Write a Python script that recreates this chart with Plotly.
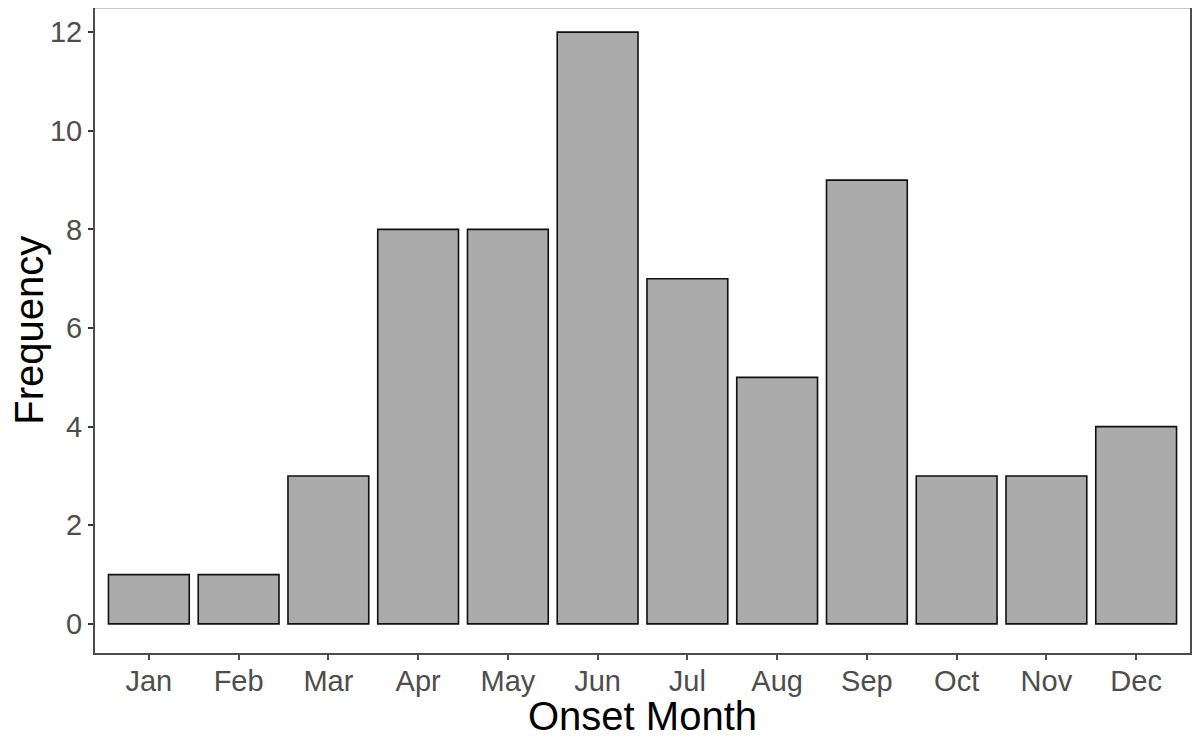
import plotly.graph_objects as go

months = ["Jan", "Feb", "Mar", "Apr", "May", "Jun", "Jul", "Aug", "Sep", "Oct", "Nov", "Dec"]
frequency = [1, 1, 3, 8, 8, 12, 7, 5, 9, 3, 3, 4]
y_ticks = [0, 2, 4, 6, 8, 10, 12]

fig = go.Figure()
fig.add_trace(go.Bar(
    x=list(range(1, 13)),
    y=frequency,
    width=0.9,
    marker=dict(color="#ababab", line=dict(color="#111111", width=1.6)),
))

# page body adds an 8px offset, so the figure is sized to fit the window
fig.update_layout(
    width=1192, height=730,
    margin=dict(l=87, r=10, t=0, b=85),
    paper_bgcolor="white", plot_bgcolor="white",
    font=dict(family="Liberation Sans, Arial", color="#4d4d4d"),
    showlegend=False,
    xaxis=dict(
        range=[0.4, 12.6], tickvals=list(range(1, 13)), ticktext=months,
        showgrid=False, zeroline=False, automargin=False,
        showline=True, linecolor="#4d4d4d", linewidth=2,
        ticks="outside", ticklen=5, tickcolor="#4d4d4d", tickwidth=2,
        ticklabelstandoff=-4,
        tickfont=dict(size=29, color="#4d4d4d"),
    ),
    yaxis=dict(
        range=[-0.59, 12.49], tickvals=y_ticks,
        showgrid=False, zeroline=False, automargin=False,
        showline=True, linecolor="#4d4d4d", linewidth=2, mirror="ticks",
        ticks="outside", ticklen=5, tickcolor="#333", tickwidth=2,
        tickfont=dict(size=29, color="#4d4d4d"),
    ),
)

# axis titles placed by hand (standoff is ignored without automargin)
fig.add_annotation(text="Onset Month", xref="paper", yref="paper", x=0.5, y=-0.098,
                   xanchor="center", yanchor="middle", showarrow=False, borderpad=0,
                   font=dict(size=40, color="black"))
fig.add_annotation(text="Frequency", xref="paper", yref="paper", x=-0.061, y=0.5,
                   xanchor="center", yanchor="middle", textangle=-90, showarrow=False,
                   borderpad=0, font=dict(size=40, color="black"))

# light top border
fig.add_shape(type="line", xref="paper", yref="paper", x0=0, x1=1, y0=1, y1=1,
              line=dict(color="#c8c8c8", width=2))

fig.write_html("out.html")
